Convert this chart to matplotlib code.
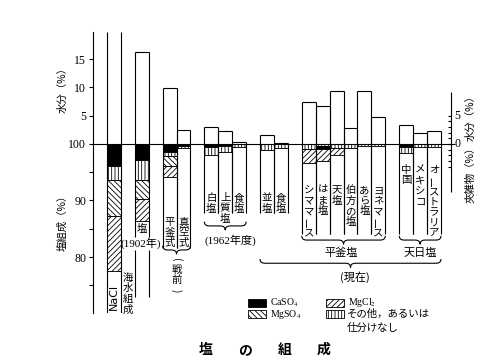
import numpy as np
import matplotlib
matplotlib.use('Agg')
import matplotlib.pyplot as plt
from matplotlib.path import Path
from matplotlib.patches import PathPatch, Rectangle

plt.rcParams['font.family'] = ['Noto Sans CJK JP', 'DejaVu Sans']
plt.rcParams['hatch.linewidth'] = 0.6
plt.rcParams['mathtext.fontset'] = 'stix'

# ---------------- data ----------------
bar_labels = ['NaCl', '塩', '平釜式', '真空式', '白塩', '上質塩', '食塩', '並塩', '食塩',
              'シママース', 'はま塩', '天塩', '伯方の塩', 'あら塩', 'ヨネマース',
              '中国', 'メキシコ', 'オーストラリア']
group_sizes = [1, 1, 2, 3, 2, 6, 3]
# moisture (%) drawn above the 100 line
moisture = [np.nan, 16.3, 9.9, 2.5, 2.95, 2.35, 0.3, 1.6, 0.25,
            7.4, 6.8, 9.4, 2.9, 9.4, 4.8, 3.4, 1.9, 2.3]
# impurities (%) stacked downward from 100
caso4 = [3.9, 2.8, 1.4, 0.3, 0.5, 0.3, 0.0, 0.0, 0.0,
         0.0, 0.6, 0.0, 0.0, 0.0, 0.0, 0.55, 0.0, 0.0]
other = [2.5, 3.6, 0.7, 0.5, 1.4, 1.2, 0.5, 1.0, 0.7,
         0.9, 0.3, 0.7, 0.7, 0.4, 0.4, 1.05, 0.5, 0.5]
mgso4 = [6.4, 3.4, 1.8, 0.0, 0.0, 0.0, 0.0, 0.0, 0.0,
         0.0, 0.0, 0.0, 0.0, 0.0, 0.0, 0.0, 0.0, 0.0]
mgcl2 = [9.6, 3.9, 1.9, 0.0, 0.0, 0.0, 0.0, 0.0, 0.0,
         2.5, 2.1, 1.2, 0.0, 0.0, 0.0, 0.0, 0.0, 0.0]
other_on_top = [False] * 10 + [True] + [False] * 7

legend_labels = ['CaSO$_4$', 'MgSO$_4$', 'MgCl$_2$', 'その他，あるいは\n仕分けなし']
left_ticks = [75, 80, 85, 90, 95, 100, 105, 110, 115]
left_ticklabels = ['', '80', '', '90', '', '100', '5', '10', '15']
right_ticks = [-4, -3, -2, -1, 0, 1, 2, 3, 4, 5]
title = '塩の組成'

# ---------------- layout ----------------
styles = {
    'CaSO4': dict(facecolor='black', hatch=None),
    'other': dict(facecolor='white', hatch='|||||'),
    'MgSO4': dict(facecolor='white', hatch='\\\\\\\\\\\\'),
    'MgCl2': dict(facecolor='white', hatch='//////'),
}
col_bottom = [None, 83.5, 81.6, 81.6, 87.8, 87.8, 87.8, 87.8, 87.8,
              84.0, 84.0, 84.0, 84.0, 84.0, 84.0, 84.0, 84.0, 84.0]
label_top = [None, 84.96, 86.2, 86.2, 90.44, 90.44, 90.44, 90.44, 90.44,
             91.86, 91.86, 91.86, 91.86, 91.86, 91.86, 95.4, 95.4, 95.4]
step = 1.86
LW = 0.8
serif = ['Liberation Serif', 'Noto Sans CJK JP']

pos = []
p = 0
for g in group_sizes:
    for k in range(g):
        pos.append(p)
        p += 1
    p += 1

fig = plt.figure(figsize=(4.81, 3.60), dpi=100)
ax = fig.add_axes([93 / 481, 47 / 360, 358 / 481, 281 / 360])
ax.set_xlim(-1.0, 24.72)
ax.set_ylim(70.1, 119.8)
for s in ['top', 'right', 'bottom']:
    ax.spines[s].set_visible(False)
ax.spines['left'].set_linewidth(LW)
ax.set_xticks([])
ax.set_yticks(left_ticks)
ax.set_yticklabels(left_ticklabels, family=serif, fontsize=8.5)
ax.tick_params(axis='y', direction='out', length=3, width=LW, pad=2)

ROT = {'ー': 90, '(': -90, ')': -90}


def vtext(x, y0, s, **kw):
    for k, ch in enumerate(s):
        ax.text(x, y0 - k * step, ch, ha='center', va='center', rotation=ROT.get(ch, 0),
                fontsize=7.5, **kw)


def brace(x0, x1, y, h=0.75, d=0.35):
    xm = (x0 + x1) / 2
    verts = [(x0, y + h), (x0, y), (x0 + d, y), (xm - d, y), (xm, y), (xm, y - h),
             (xm, y), (xm + d, y), (x1 - d, y), (x1, y), (x1, y + h)]
    codes = [Path.MOVETO, Path.CURVE3, Path.CURVE3, Path.LINETO, Path.CURVE3, Path.CURVE3,
             Path.CURVE3, Path.CURVE3, Path.LINETO, Path.CURVE3, Path.CURVE3]
    ax.add_patch(PathPatch(Path(verts, codes), fill=False, lw=LW, clip_on=False))


ymin, ymax = ax.get_ylim()
for i, x in enumerate(pos):
    comps = {'CaSO4': caso4[i], 'other': other[i], 'MgSO4': mgso4[i], 'MgCl2': mgcl2[i]}
    order = ['other', 'CaSO4', 'MgSO4', 'MgCl2'] if other_on_top[i] else ['CaSO4', 'other', 'MgSO4', 'MgCl2']
    top = 100.0
    for c in order:
        v = comps[c]
        if v <= 0:
            continue
        ax.bar(x, v, bottom=top - v, width=1, align='edge', edgecolor='black',
               linewidth=LW * 0.8, **styles[c])
        top -= v
    if np.isnan(moisture[i]):
        ax.vlines([x, x + 1], ymin, ymax, color='black', lw=LW)
    else:
        t = 100 + moisture[i]
        ax.vlines([x, x + 1], col_bottom[i], t, color='black', lw=LW)
        ax.hlines(t, x, x + 1, color='black', lw=LW)
        vtext(x + 0.5, label_top[i], bar_labels[i])

# reference line at 100 / 0
ax.hlines(100, -1.0, 25.0, color='black', lw=LW, clip_on=False)

# sea-water column extras
ax.text(pos[0] + 0.5, 72.9, bar_labels[0], rotation=90, ha='center', va='center',
        fontsize=8, family=['DejaVu Sans'])
vtext(pos[0] + 1.5, 76.3, '海水組成')
# 1902 column extras
ax.vlines([pos[1], pos[1] + 1], 72.9, 81.2, color='black', lw=LW)
ax.text(pos[1] + 0.45, 82.5, '(1902年)', ha='center', va='center', fontsize=8, family=serif)
# pre-war group
brace(pos[2], pos[3] + 1, 81.25)
vtext(pos[3], 79.6, '(戦前)')
# 1962 group
brace(pos[4], pos[6] + 1, 85.5)
ax.text((pos[4] + pos[6] + 1) / 2 + 0.35, 83.0, '(1962年度)', ha='center', va='center',
        fontsize=8, family=serif)
# present groups
brace(pos[9], pos[14] + 1, 83.0)
ax.text((pos[9] + pos[14] + 1) / 2 - 0.2, 80.7, '平釜塩', ha='center', va='center', fontsize=8)
brace(pos[15], pos[17] + 1, 83.0)
ax.text((pos[15] + pos[17] + 1) / 2, 80.7, '天日塩', ha='center', va='center', fontsize=8)
brace(pos[7], pos[17] + 1, 78.9)
ax.text((pos[7] + pos[17] + 1) / 2 + 0.3, 76.5, '(現在)', ha='center', va='center', fontsize=8)

# right axis (moisture / impurities)
xr = ax.get_xlim()[1]
ax.vlines(xr, 91.5, 109.2, color='black', lw=LW, clip_on=False)
for v in right_ticks:
    ax.hlines(100 + v, xr - 0.25, xr, color='black', lw=LW, clip_on=False)
for v in [0, 5]:
    ax.text(xr + 0.25, 100 + v, str(v), ha='left', va='center', fontsize=8.5,
            family=serif, clip_on=False)
ax.text(26.1, 105.1, '水分（%）', rotation=90, ha='center', va='center', fontsize=7.5, clip_on=False)
ax.text(26.1, 95.0, '夾雑物（%）', rotation=90, ha='center', va='center', fontsize=7.5, clip_on=False)

# left axis titles
ax.text(-3.2, 109.9, '水分（%）', rotation=90, ha='center', va='center', fontsize=7.5, clip_on=False)
ax.text(-3.2, 86.5, '塩組成（%）', rotation=90, ha='center', va='center', fontsize=7.5, clip_on=False)

# overlay in pixel coordinates for legend + title
lax = fig.add_axes([0, 0, 1, 1], facecolor='none')
lax.set_xlim(0, 481)
lax.set_ylim(360, 0)
lax.axis('off')
leg_keys = ['CaSO4', 'MgSO4', 'MgCl2', 'other']
leg_pos = [(248, 299), (248, 310), (326, 299), (326, 310)]
for key, lab, (lx, ly) in zip(leg_keys, legend_labels, leg_pos):
    lax.add_patch(Rectangle((lx, ly), 18, 8, edgecolor='black', lw=0.6, **styles[key]))
    if key == 'other':
        lax.text(lx + 21, ly + 4, 'その他，あるいは', ha='left', va='center', fontsize=7.5)
        lax.text(lx + 21, ly + 18, '仕分けなし', ha='left', va='center', fontsize=7.5)
    else:
        lax.text(lx + 22, ly + 3.5 + (1 if key == 'MgSO4' else 0), lab, ha='left', va='center',
                 fontsize=7, family=serif)

for k, ch in enumerate(title):
    lax.text(206 + k * 39.3, 350, ch, ha='center', va='center', fontsize=10, fontweight='bold')

fig.savefig('out.png', dpi=100)
